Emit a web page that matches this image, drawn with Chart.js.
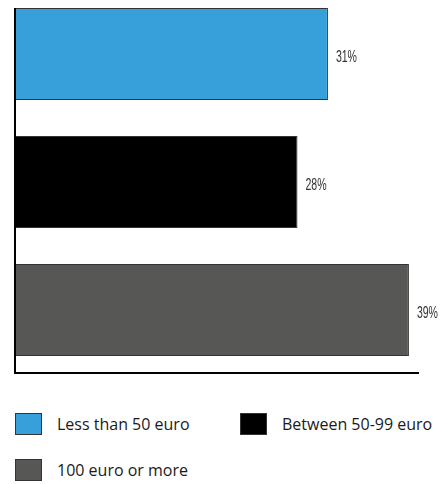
<!DOCTYPE html>
<html>
<head>
<meta charset="utf-8">
<script src="https://cdn.jsdelivr.net/npm/chart.js@4"></script>
<style>
    body { margin: 0; background: #fff; width: 448px; height: 484px; position: relative; overflow: hidden; }
    #wrap { position: absolute; left: 0; top: -10px; width: 448px; height: 384px; }
    .legend-item { position: absolute; display: flex; align-items: center; font-family: "Open Sans", sans-serif; font-size: 16px; color: #1a1a1a; }
    .legend-box { width: 27px; height: 22px; border: 1px solid #333; box-sizing: border-box; margin-right: 15px; }
</style>
</head>
<body>
<div id="wrap"><canvas id="chart"></canvas></div>
<div id="legend"></div>
<script>
// Chart data
const categories = ['Less than 50 euro', 'Between 50-99 euro', '100 euro or more'];
const shares = [31, 28, 39];
const barColors = ['#379fd9', '#000000', '#575755'];
const axisMax = 40;

// Legend positions (row layout of the original)
const legendSpots = [
    { left: 15, top: 413 },
    { left: 240, top: 413 },
    { left: 15, top: 459 }
];

// Value labels + axis lines
const annotate = {
    id: 'annotate',
    afterDatasetsDraw(chart) {
        const ctx = chart.ctx;
        const area = chart.chartArea;
        const bars = chart.getDatasetMeta(0).data;

        // condensed value labels
        bars.forEach((bar, i) => {
            ctx.save();
            ctx.translate(bar.x + 8, bar.y + 3);
            ctx.scale(0.62, 1);
            ctx.font = '17px "Liberation Sans", sans-serif';
            ctx.fillStyle = '#333';
            ctx.textBaseline = 'middle';
            ctx.textAlign = 'left';
            ctx.fillText(shares[i] + '%', 0, 0);
            ctx.restore();
        });

        // axis lines start at the top of the first bar
        const top = bars[0].y - bars[0].height / 2;
        ctx.save();
        ctx.strokeStyle = '#000';
        ctx.lineWidth = 2;
        ctx.beginPath();
        ctx.moveTo(area.left + 1, top);
        ctx.lineTo(area.left + 1, area.bottom - 1);
        ctx.lineTo(area.right, area.bottom - 1);
        ctx.stroke();
        ctx.restore();
    }
};

new Chart(document.getElementById('chart'), {
    type: 'bar',
    data: {
        labels: categories,
        datasets: [{
            data: shares,
            backgroundColor: barColors,
            borderColor: '#333',
            borderWidth: 1,
            borderSkipped: false,
            categoryPercentage: 1,
            barPercentage: 0.72
        }]
    },
    options: {
        indexAxis: 'y',
        responsive: true,
        maintainAspectRatio: false,
        animation: false,
        layout: { padding: { left: 14, right: 29, top: 0, bottom: 0 } },
        plugins: {
            legend: { display: false },
            tooltip: { enabled: false }
        },
        scales: {
            x: {
                min: 0,
                max: axisMax,
                ticks: { display: false },
                grid: { display: false },
                border: { display: false },
                afterFit(scale) { scale.height = 0; }
            },
            y: {
                ticks: { display: false },
                grid: { display: false },
                border: { display: false },
                afterFit(scale) { scale.width = 0; }
            }
        }
    },
    plugins: [annotate]
});

// HTML legend
const legend = document.getElementById('legend');
categories.forEach((name, i) => {
    const item = document.createElement('div');
    item.className = 'legend-item';
    item.style.left = legendSpots[i].left + 'px';
    item.style.top = legendSpots[i].top + 'px';
    item.innerHTML = `<span class="legend-box" style="background:${barColors[i]}"></span><span>${name}</span>`;
    legend.appendChild(item);
});
</script>
</body>
</html>
